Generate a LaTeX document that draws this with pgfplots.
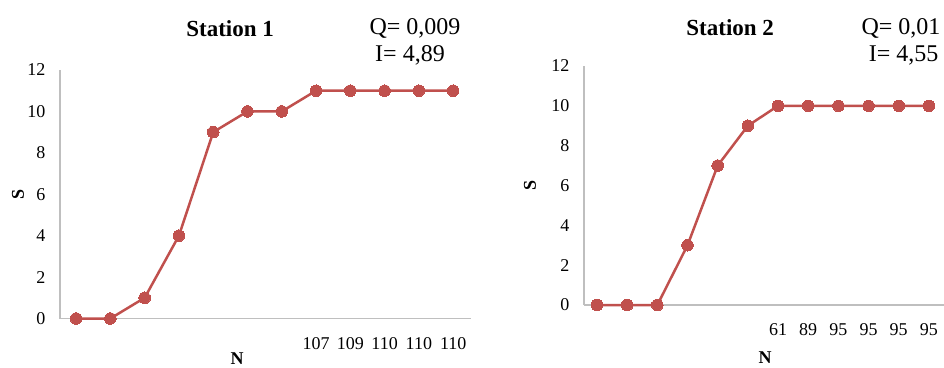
\documentclass[border=0pt]{standalone}
\usepackage{pgfplots}
\pgfplotsset{compat=1.18}
\usepackage{pgfplotstable}
\usepackage{fontspec}
\setmainfont{Liberation Serif}
\definecolor{serie}{HTML}{C0504D}
\definecolor{axgray}{HTML}{BFBFBF}
\pgfplotstableread{
x s
0 0
1 0
2 1
3 4
4 9
5 10
6 10
7 11
8 11
9 11
10 11
11 11
}\stA
\pgfplotstableread{
x s
0 0
1 0
2 0
3 3
4 7
5 9
6 10
7 10
8 10
9 10
10 10
11 10
}\stB
\pgfplotsset{
 st/.style={
  scale only axis, clip=false,
  axis x line*=bottom, axis y line*=left,
  axis line style={axgray, line width=1.3pt},
  major tick length=0pt,
  ymin=0, ymax=12, ytick={0,2,...,12},
  xtick={0,...,11},
  /pgf/number format/assume math mode=true,
  tick label style={font=\fontsize{18}{20}\selectfont},
  yticklabel style={xshift=-11pt},
  xticklabel style={yshift=-15pt},
  label style={font=\fontsize{18}{20}\selectfont\bfseries},
  title style={font=\fontsize{23}{26}\selectfont\bfseries, anchor=center},
 },
 ser/.style={serie, line width=2.5pt, mark=*, mark size=5.8pt, mark options={serie, fill=serie, line width=0pt}},
}
\begin{document}
\begin{tikzpicture}
\path[use as bounding box] (0,0) rectangle (944pt,367pt);
\begin{axis}[st,
  at={(60pt,48.5pt)}, anchor=south west,
  width=411pt, height=248.5pt,
  xmin=-0.47, xmax=11.52,
  xticklabels={,,,,,,,107,109,110,110,110},
  title={Station 1},
  title style={at={(axis description cs:0.414,1.141)}},
  xlabel={N}, ylabel={S},
  xlabel style={at={(axis description cs:0.431,-0.185)}, anchor=base},
  ylabel style={at={(axis description cs:-0.102,0.5)}, anchor=center},
]
\addplot[ser] table[x=x,y=s] {\stA};
\end{axis}
\begin{axis}[st,
  at={(584pt,62pt)}, anchor=south west,
  width=360pt, height=239pt,
  xmin=-0.43, xmax=11.5,
  xticklabels={,,,,,,61,89,95,95,95,95},
  title={Station 2},
  title style={at={(axis description cs:0.406,1.134)}},
  xlabel={N}, ylabel={S},
  xlabel style={at={(axis description cs:0.503,-0.243)}, anchor=base},
  ylabel style={at={(axis description cs:-0.15,0.5)}, anchor=center},
]
\addplot[ser] table[x=x,y=s] {\stB};
\end{axis}
\node[font=\fontsize{24}{26}\selectfont] at (415pt,339pt) {Q= 0,009};
\node[font=\fontsize{24}{26}\selectfont] at (410pt,312pt) {I= 4,89};
\node[font=\fontsize{24}{26}\selectfont, anchor=east] at (944pt,339pt) {Q= 0,01};
\node[font=\fontsize{24}{26}\selectfont, anchor=east] at (942pt,312pt) {I= 4,55};
\end{tikzpicture}
\end{document}
